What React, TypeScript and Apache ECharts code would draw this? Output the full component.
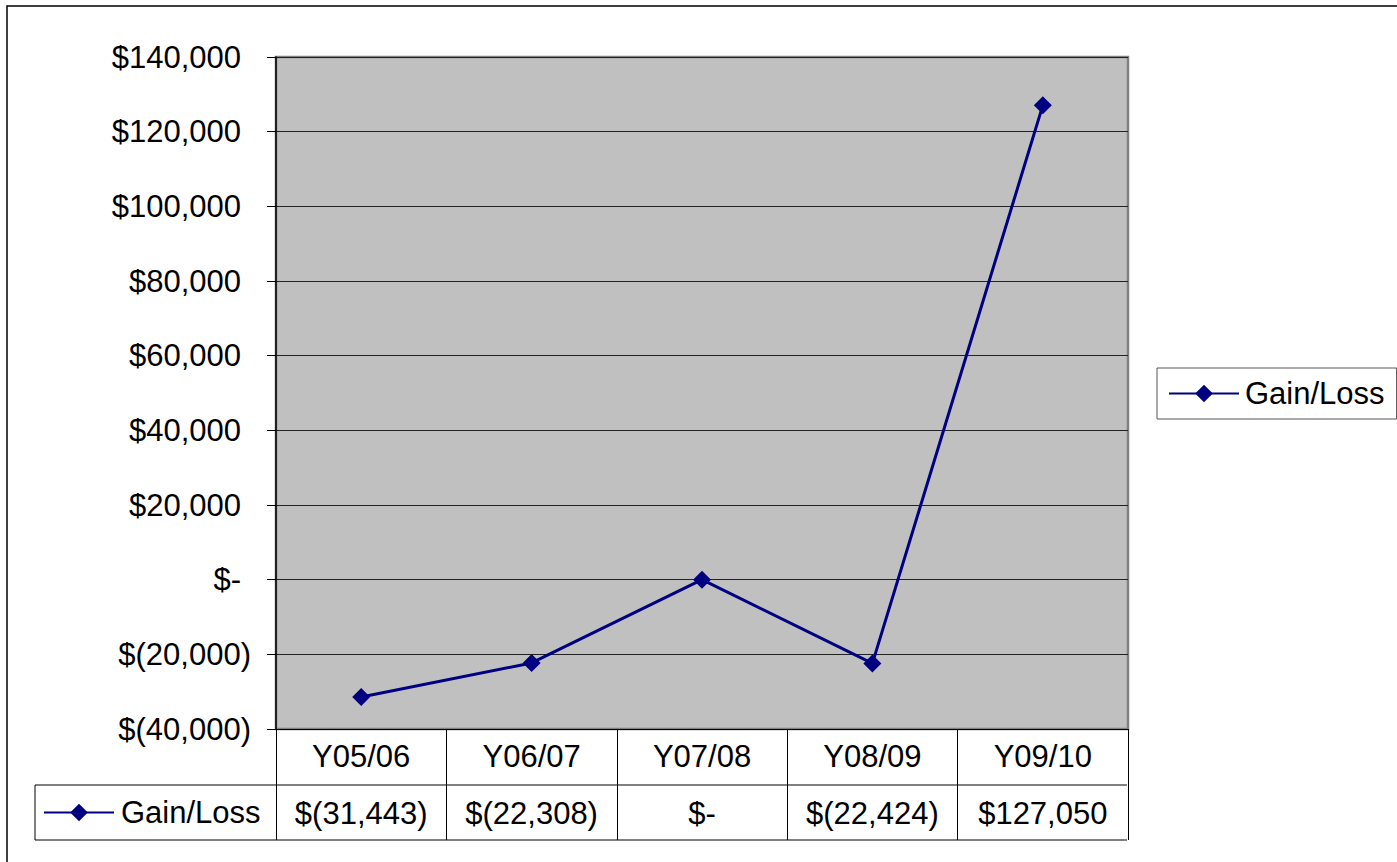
import React, { useEffect, useRef } from "react";
import * as echarts from "echarts";

const categories = ["Y05/06", "Y06/07", "Y07/08", "Y08/09", "Y09/10"];
const gainLoss = [-31443, -22308, 0, -22424, 127050];
const seriesName = "Gain/Loss";
const yMin = -40000;
const yMax = 140000;
const yStep = 20000;

const FONT = "Arial, 'Liberation Sans', sans-serif";
const FS = 31;

function acct(v: number): string {
  if (v === 0) return "$-";
  const s = Math.abs(v).toLocaleString("en-US");
  return v < 0 ? `$(${s})` : `$${s}`;
}

function acctRich(v: number): string {
  const s = acct(v);
  return v < 0 ? `{n|${s}}` : `{p|${s}}`;
}

export default function App() {
  const ref = useRef<HTMLDivElement>(null);
  useEffect(() => {
    if (!ref.current) return;
    const chart = echarts.init(ref.current, undefined, { renderer: "svg" });
    const gridLeft = 276;
    const gridRight = 1128;
    const gridTop = 57;
    const gridBottom = 729;
    const rowH = 56;
    const tableLeft = 35;
    chart.setOption({
      animation: false,
      backgroundColor: "#ffffff",
      textStyle: { fontFamily: FONT },
      grid: {
        left: gridLeft,
        right: 1397 - gridRight,
        top: gridTop,
        bottom: 862 - gridBottom,
        show: true,
        backgroundColor: "#C0C0C0",
        borderColor: "#808080",
        borderWidth: 2.5,
        containLabel: false,
      },
      legend: [
        {
          data: [seriesName],
          left: 1157,
          top: 368,
          orient: "vertical",
          padding: [10, 12, 10, 11],
          borderColor: "#555",
          borderWidth: 1,
          backgroundColor: "#fff",
          itemWidth: 70,
          itemHeight: 22,
          textStyle: { fontSize: FS, color: "#000", fontFamily: FONT, padding: [0, 0, 0, 1] },
        },
        {
          data: [seriesName],
          left: 43,
          top: 797,
          orient: "vertical",
          padding: 0,
          itemWidth: 70,
          itemHeight: 22,
          textStyle: { fontSize: FS, color: "#000", fontFamily: FONT, padding: [0, 0, 0, 2] },
        },
      ],
      xAxis: [
        {
          type: "category",
          data: categories,
          position: "bottom",
          boundaryGap: true,
          axisLine: { show: true, onZero: false, lineStyle: { color: "#000", width: 1 } },
          axisTick: { show: true, interval: 0, length: rowH * 2 - 1, lineStyle: { color: "#000", width: 1 } },
          axisLabel: { interval: 0, fontSize: FS, color: "#000", fontFamily: FONT, margin: 12 },
          splitLine: { show: false },
        },
        {
          type: "category",
          data: categories,
          position: "bottom",
          offset: rowH,
          axisLine: { show: false },
          axisTick: { show: false },
          axisLabel: {
            interval: 0,
            fontSize: FS,
            color: "#000",
            fontFamily: FONT,
            margin: 13,
            formatter: (_v: string, i: number) => acct(gainLoss[i]),
          },
          splitLine: { show: false },
        },
      ],
      yAxis: {
        type: "value",
        min: yMin,
        max: yMax,
        interval: yStep,
        axisLine: { show: true, lineStyle: { color: "#000", width: 1.5 } },
        axisTick: { show: true, inside: false, length: 9, lineStyle: { color: "#000", width: 1 } },
        splitLine: { show: true, lineStyle: { color: "#222", width: 1 } },
        axisLabel: {
          fontSize: FS,
          color: "#000",
          fontFamily: FONT,
          margin: 25,
          formatter: (v: number) => acctRich(v),
          rich: {
            p: { fontSize: FS, color: "#000", fontFamily: FONT, padding: [0, 10, 0, 0] },
            n: { fontSize: FS, color: "#000", fontFamily: FONT },
          },
        },
      },
      series: [
        {
          name: seriesName,
          type: "line",
          xAxisIndex: 0,
          data: gainLoss,
          color: "#000080",
          lineStyle: { color: "#000080", width: 3 },
          itemStyle: { color: "#000080" },
          symbol: "diamond",
          symbolSize: 18,
          showSymbol: true,
          z: 5,
        },
      ],
      graphic: [
        {
          type: "rect",
          shape: { x: 7, y: 6, width: 1500, height: 1000 },
          style: { fill: "none", stroke: "#000", lineWidth: 1.5 },
          silent: true,
          z: 100,
        },
        {
          type: "line",
          shape: { x1: tableLeft, y1: gridBottom + rowH, x2: gridRight - 1, y2: gridBottom + rowH },
          style: { stroke: "#000", lineWidth: 1 },
          silent: true,
        },
        {
          type: "line",
          shape: { x1: tableLeft, y1: gridBottom + rowH * 2 - 1, x2: gridRight - 1, y2: gridBottom + rowH * 2 - 1 },
          style: { stroke: "#000", lineWidth: 1 },
          silent: true,
        },
        {
          type: "line",
          shape: { x1: tableLeft, y1: gridBottom + rowH, x2: tableLeft, y2: gridBottom + rowH * 2 - 1 },
          style: { stroke: "#000", lineWidth: 1 },
          silent: true,
        },
      ],
    });
    return () => chart.dispose();
  }, []);
  return (
    <div
      ref={ref}
      style={{ position: "absolute", left: 0, top: 0, width: 1397, height: 862 }}
    />
  );
}
